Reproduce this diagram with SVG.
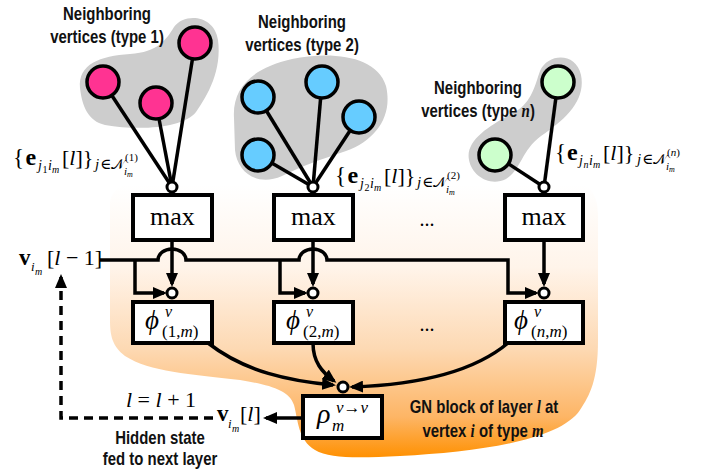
<svg xmlns="http://www.w3.org/2000/svg" width="716" height="474" viewBox="0 0 716 474">
<defs>
<linearGradient id="og" gradientUnits="userSpaceOnUse" x1="0" y1="185" x2="0" y2="458">
<stop offset="0" stop-color="#ffffff"/>
<stop offset="0.3" stop-color="#fff4ea"/>
<stop offset="0.6" stop-color="#fdd9b3"/>
<stop offset="0.85" stop-color="#fdb565"/>
<stop offset="1" stop-color="#ff9000"/>
</linearGradient>
<marker id="ah" markerUnits="userSpaceOnUse" markerWidth="14" markerHeight="12" viewBox="0 0 14 12" refX="11" refY="6" orient="auto">
<path d="M0,0 L14,6 L0,12 Z" fill="#000"/>
</marker>
<style>
.lbl{font-family:"Liberation Sans",Arial,sans-serif;font-weight:bold;font-size:18px;fill:#111}
.m{font-family:"Liberation Serif","Times New Roman","DejaVu Serif",serif;fill:#000}
.it{font-style:italic}
.bd{font-weight:bold}
.cal{font-family:"DejaVu Sans","Noto Sans",sans-serif;font-style:normal}
.box{fill:#fff;stroke:#000;stroke-width:4}
.jc{fill:#fff;stroke:#000;stroke-width:3}
.edge{fill:none;stroke:#000;stroke-width:3.5}
.arr{fill:none;stroke:#000;stroke-width:3.5;marker-end:url(#ah)}
.nb{stroke:#000;stroke-width:3.5}
.blob{fill:#cdcdcd}
</style>
</defs>

<!-- GN block background -->
<path id="gnblock" d="M110,205 C110,188 125,182 150,182 L570,182 C590,182 598,195 598,215 L598,340 C598,380 590,395 580,410 C560,440 480,452 400,456 C360,458 330,459 315,450 C298,440 298,420 294,405 C289,390 270,385 240,380 C190,374 150,372 125,356 C112,346 110,335 110,320 Z" fill="url(#og)"/>

<!-- neighbour groups -->
<g id="neighbors1">
<path class="blob" d="M80,88 C78,64 100,56 130,54 C158,52 166,40 174,27 C184,13 214,14 218,40 C222,70 208,95 196,112 C184,128 140,131 105,125 C88,121 82,106 80,88 Z"/>
<line class="edge" x1="103" y1="82" x2="172" y2="187"/>
<line class="edge" x1="156" y1="103" x2="172" y2="187"/>
<line class="edge" x1="195" y1="43" x2="172" y2="187"/>
<circle class="nb" cx="103" cy="82" r="16" fill="#ff3392"/>
<circle class="nb" cx="156" cy="103" r="16" fill="#ff3392"/>
<circle class="nb" cx="195" cy="43" r="16" fill="#ff3392"/>
</g>
<g id="neighbors2">
<path class="blob" d="M234,118 C232,88 252,68 292,59 C332,51 377,56 386,86 C393,116 376,140 346,151 C322,159 302,166 282,176 C257,187 237,172 235,150 Z"/>
<line class="edge" x1="258" y1="97" x2="313" y2="187"/>
<line class="edge" x1="322" y1="82" x2="313" y2="187"/>
<line class="edge" x1="359" y1="117" x2="313" y2="187"/>
<line class="edge" x1="258" y1="155" x2="313" y2="187"/>
<circle class="nb" cx="258" cy="97" r="16" fill="#66ccff"/>
<circle class="nb" cx="322" cy="82" r="16" fill="#66ccff"/>
<circle class="nb" cx="359" cy="117" r="16" fill="#66ccff"/>
<circle class="nb" cx="258" cy="155" r="16" fill="#66ccff"/>
</g>
<g id="neighborsN">
<path class="blob" d="M469,160 C465,140 490,125 515,112 C532,102 535,85 540,71 C548,53 576,52 581,75 C586,100 566,119 541,136 C521,151 521,170 506,179 C490,187 472,176 469,160 Z"/>
<line class="edge" x1="558" y1="82" x2="544" y2="187"/>
<line class="edge" x1="495" y1="155" x2="544" y2="187"/>
<circle class="nb" cx="558" cy="82" r="16" fill="#ccffcc"/>
<circle class="nb" cx="495" cy="155" r="16" fill="#ccffcc"/>
</g>

<!-- connectors -->
<g id="connectors">
<path class="edge" d="M100,260 H158 A14,11 0 0 1 186,260 H299 A14,11 0 0 1 327,260 H508 V293 H536" marker-end="url(#ah)"/>
<path class="arr" d="M135,260 V293 H164"/>
<path class="arr" d="M280,260 V293 H305"/>
<path class="arr" d="M172,240 V284"/>
<path class="arr" d="M313,240 V284"/>
<path class="arr" d="M544,240 V284"/>
<path class="arr" d="M208,343 C245,372 290,381 333,385"/>
<path class="arr" d="M313,343 C313,362 322,372 334,381"/>
<path class="arr" d="M508,343 C470,375 410,385 352,387"/>
<path class="arr" d="M303,418 H266"/>
<path class="arr" d="M213,418 H61 V277" stroke-dasharray="9 6"/>
</g>

<!-- max nodes -->
<g id="max1"><rect class="box" x="133" y="195" width="79" height="45"/><text class="m" x="172.5" y="225" font-size="26" text-anchor="middle">max</text></g>
<g id="max2"><rect class="box" x="274" y="195" width="79" height="45"/><text class="m" x="313.5" y="225" font-size="26" text-anchor="middle">max</text></g>
<g id="maxN"><rect class="box" x="505" y="195" width="78" height="45"/><text class="m" x="544" y="225" font-size="26" text-anchor="middle">max</text></g>

<!-- junctions -->
<g id="junctions">
<circle class="jc" cx="172" cy="187" r="5"/>
<circle class="jc" cx="313" cy="187" r="5"/>
<circle class="jc" cx="544" cy="187" r="5"/>
<circle class="jc" cx="172" cy="293" r="5"/>
<circle class="jc" cx="313" cy="293" r="5"/>
<circle class="jc" cx="544" cy="293" r="5"/>
<circle class="jc" cx="343" cy="387" r="5"/>
</g>

<!-- phi nodes -->
<g id="phi1"><rect class="box" x="133" y="302" width="79" height="41"/>
<text class="m it" x="145" y="329" font-size="27">ϕ</text>
<text class="m it" x="165" y="317" font-size="16">v</text>
<text class="m" x="162" y="337" font-size="17">(1,<tspan class="it">m</tspan>)</text></g>
<g id="phi2"><rect class="box" x="274" y="302" width="79" height="41"/>
<text class="m it" x="286" y="329" font-size="27">ϕ</text>
<text class="m it" x="306" y="317" font-size="16">v</text>
<text class="m" x="303" y="337" font-size="17">(2,<tspan class="it">m</tspan>)</text></g>
<g id="phiN"><rect class="box" x="505" y="302" width="78" height="41"/>
<text class="m it" x="514" y="329" font-size="27">ϕ</text>
<text class="m it" x="534" y="317" font-size="16">v</text>
<text class="m" x="531" y="337" font-size="17">(<tspan class="it">n</tspan>,<tspan class="it">m</tspan>)</text></g>

<!-- rho node -->
<g id="rho"><rect class="box" x="303" y="396" width="79" height="42"/>
<text class="m it" x="317" y="423" font-size="28">ρ</text>
<text class="m it" x="332" y="431" font-size="17">m</text>
<text class="m" x="336" y="413" font-size="17"><tspan class="it">v</tspan>→<tspan class="it">v</tspan></text></g>

<!-- ellipses -->
<text class="m" x="427" y="226" font-size="20" text-anchor="middle">...</text>
<text class="m" x="427" y="331" font-size="20" text-anchor="middle">...</text>

<!-- edge set labels -->
<g id="label-e1" transform="translate(13,165)">
<text class="m" x="0" y="0" font-size="23">{</text>
<text class="m bd" x="12.5" y="0" font-size="24">e</text>
<text class="m it" x="25" y="5" font-size="14">j</text>
<text class="m" x="29.5" y="8" font-size="10">1</text>
<text class="m it" x="35" y="5" font-size="14">i</text>
<text class="m it" x="39" y="8" font-size="10">m</text>
<text class="m" x="49" y="0" font-size="22">[<tspan class="it">l</tspan>]}</text>
<text class="m it" x="82" y="4" font-size="15">j</text>
<text class="m" x="87" y="4" font-size="15">∈</text>
<text class="m cal" x="98" y="4" font-size="14">𝒩</text>
<text class="m" x="112" y="-4" font-size="11">(1)</text>
<text class="m it" x="111" y="10" font-size="11">i</text>
<text class="m it" x="114" y="12" font-size="8">m</text>
</g>
<g id="label-e2" transform="translate(335,183)">
<text class="m" x="0" y="0" font-size="23">{</text>
<text class="m bd" x="12.5" y="0" font-size="24">e</text>
<text class="m it" x="25" y="5" font-size="14">j</text>
<text class="m" x="29.5" y="8" font-size="10">2</text>
<text class="m it" x="35" y="5" font-size="14">i</text>
<text class="m it" x="39" y="8" font-size="10">m</text>
<text class="m" x="49" y="0" font-size="22">[<tspan class="it">l</tspan>]}</text>
<text class="m it" x="82" y="4" font-size="15">j</text>
<text class="m" x="87" y="4" font-size="15">∈</text>
<text class="m cal" x="98" y="4" font-size="14">𝒩</text>
<text class="m" x="112" y="-4" font-size="11">(2)</text>
<text class="m it" x="111" y="10" font-size="11">i</text>
<text class="m it" x="114" y="12" font-size="8">m</text>
</g>
<g id="label-en" transform="translate(555,160)">
<text class="m" x="0" y="0" font-size="23">{</text>
<text class="m bd" x="12" y="0" font-size="24">e</text>
<text class="m it" x="24" y="5" font-size="14">j</text>
<text class="m it" x="28.5" y="8" font-size="10">n</text>
<text class="m it" x="34" y="5" font-size="14">i</text>
<text class="m it" x="38" y="8" font-size="10">m</text>
<text class="m" x="48" y="0" font-size="22">[<tspan class="it">l</tspan>]}</text>
<text class="m it" x="82" y="4" font-size="15">j</text>
<text class="m" x="87" y="4" font-size="15">∈</text>
<text class="m cal" x="98" y="4" font-size="14">𝒩</text>
<text class="m" x="112" y="-4" font-size="11">(<tspan class="it">n</tspan>)</text>
<text class="m it" x="111" y="10" font-size="11">i</text>
<text class="m it" x="114" y="12" font-size="8">m</text>
</g>

<!-- state labels -->
<g id="label-vin">
<text class="m bd" x="19" y="265" font-size="23">v</text>
<text class="m it" x="31" y="271" font-size="13">i</text>
<text class="m it" x="35" y="275" font-size="10">m</text>
<text class="m" x="47" y="265" font-size="22">[<tspan class="it">l</tspan> − 1]</text>
</g>
<g id="label-vout">
<text class="m bd" x="217" y="421" font-size="23">v</text>
<text class="m it" x="228" y="428" font-size="13">i</text>
<text class="m it" x="232" y="432" font-size="10">m</text>
<text class="m" x="240" y="421" font-size="22">[<tspan class="it">l</tspan>]</text>
</g>
<text class="m" x="161" y="407" font-size="22" text-anchor="middle"><tspan class="it">l</tspan> = <tspan class="it">l</tspan> + 1</text>

<!-- descriptive labels -->
<text class="lbl" transform="translate(107,20) scale(0.83,1)" text-anchor="middle">Neighboring</text>
<text class="lbl" transform="translate(107,43) scale(0.83,1)" text-anchor="middle">vertices (type 1)</text>
<text class="lbl" transform="translate(302,28) scale(0.83,1)" text-anchor="middle">Neighboring</text>
<text class="lbl" transform="translate(302,51) scale(0.83,1)" text-anchor="middle">vertices (type 2)</text>
<text class="lbl" transform="translate(478,94) scale(0.83,1)" text-anchor="middle">Neighboring</text>
<text class="lbl" transform="translate(478,117) scale(0.83,1)" text-anchor="middle">vertices (type <tspan font-family="Liberation Serif,serif" font-style="italic">n</tspan>)</text>
<text class="lbl" transform="translate(160,444) scale(0.83,1)" text-anchor="middle">Hidden state</text>
<text class="lbl" transform="translate(160,465) scale(0.83,1)" text-anchor="middle">fed to next layer</text>
<text class="lbl" transform="translate(484,413) scale(0.83,1)" text-anchor="middle">GN block of layer <tspan font-family="Liberation Serif,serif" font-style="italic">l</tspan> at</text>
<text class="lbl" transform="translate(483,437) scale(0.83,1)" text-anchor="middle">vertex <tspan font-family="Liberation Serif,serif" font-style="italic">i</tspan> of type <tspan font-family="Liberation Serif,serif" font-style="italic">m</tspan></text>
</svg>
